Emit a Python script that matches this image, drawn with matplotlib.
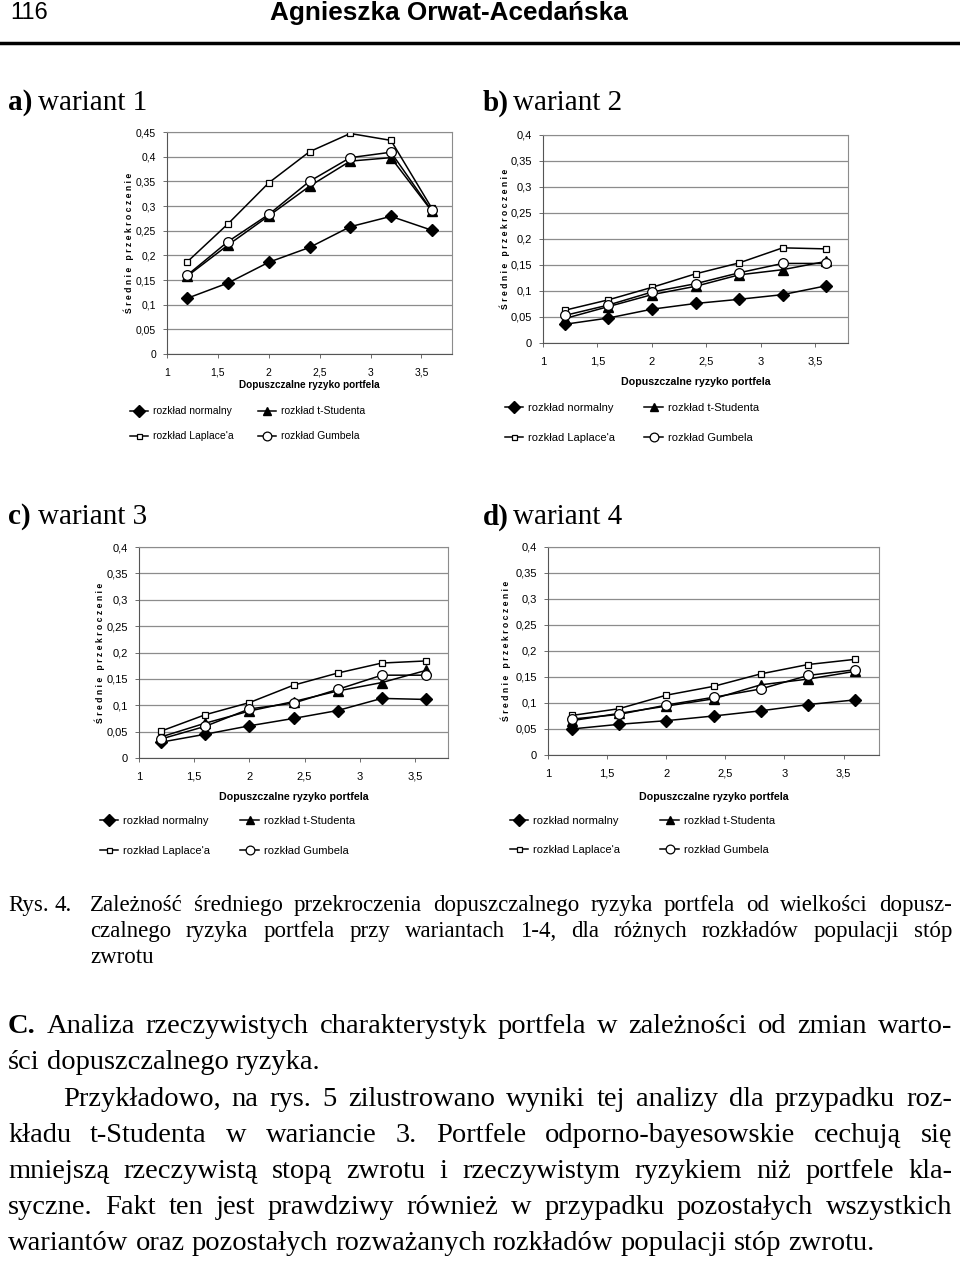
import matplotlib
matplotlib.use("Agg")
import matplotlib.pyplot as plt
from matplotlib.ticker import FuncFormatter

W, H = 960, 1271
fig = plt.figure(figsize=(W / 100, H / 100), dpi=100)

# x values (dopuszczalne ryzyko portfela)
ryzyko = [1.2, 1.6, 2.0, 2.4, 2.8, 3.2, 3.6]

# a) wariant 1
a_normalny = [0.113, 0.144, 0.186, 0.216, 0.258, 0.279, 0.251]
a_student = [0.158, 0.221, 0.280, 0.340, 0.391, 0.398, 0.290]
a_laplace = [0.187, 0.264, 0.347, 0.410, 0.447, 0.433, 0.296]
a_gumbel = [0.160, 0.228, 0.283, 0.350, 0.398, 0.409, 0.291]

# b) wariant 2
b_normalny = [0.036, 0.048, 0.065, 0.076, 0.084, 0.093, 0.110]
b_student = [0.047, 0.070, 0.093, 0.109, 0.131, 0.141, 0.157]
b_laplace = [0.063, 0.083, 0.107, 0.133, 0.154, 0.183, 0.181]
b_gumbel = [0.053, 0.073, 0.098, 0.114, 0.135, 0.153, 0.153]

# c) wariant 3
c_normalny = [0.030, 0.045, 0.061, 0.075, 0.090, 0.113, 0.111]
c_student = [0.040, 0.066, 0.089, 0.107, 0.127, 0.143, 0.166]
c_laplace = [0.051, 0.082, 0.105, 0.138, 0.161, 0.180, 0.184]
c_gumbel = [0.036, 0.060, 0.093, 0.104, 0.130, 0.157, 0.157]

# d) wariant 4
d_normalny = [0.050, 0.059, 0.066, 0.075, 0.085, 0.097, 0.106]
d_student = [0.066, 0.080, 0.094, 0.108, 0.135, 0.146, 0.161]
d_laplace = [0.076, 0.089, 0.115, 0.132, 0.156, 0.174, 0.184]
d_gumbel = [0.069, 0.078, 0.096, 0.111, 0.127, 0.153, 0.164]

labels = ["rozkład normalny", "rozkład t-Studenta", "rozkład Laplace'a", "rozkład Gumbela"]
sans = "Liberation Sans"
serif = "Liberation Serif"


def px_axes(left, top, right, bottom):
    return fig.add_axes([left / W, 1 - bottom / H, (right - left) / W, (bottom - top) / H])


def comma(v, pos):
    s = ("%.2f" % v).rstrip("0").rstrip(".")
    return s.replace(".", ",")


def chart(box, data, ymax, ylab_x, xlab_y, leg, fs):
    ax = px_axes(*box)
    norm, stud, lap, gum = data
    l1, = ax.plot(ryzyko, norm, color="black", lw=1.1, marker="D", ms=6.5, mfc="black")
    l2, = ax.plot(ryzyko, stud, color="black", lw=1.1, marker="^", ms=6.5, mfc="black")
    l3, = ax.plot(ryzyko, lap, color="black", lw=1.1, marker="s", ms=4, mfc="white", mew=0.9)
    l4, = ax.plot(ryzyko, gum, color="black", lw=1.1, marker="o", ms=7, mfc="white", mew=0.9)
    ax.set_xlim(1, 3.8)
    ax.set_ylim(0, ymax)
    ax.set_xticks([1, 1.5, 2, 2.5, 3, 3.5])
    ax.set_yticks([i * 0.05 for i in range(int(round(ymax / 0.05)) + 1)])
    ax.xaxis.set_major_formatter(FuncFormatter(comma))
    ax.yaxis.set_major_formatter(FuncFormatter(comma))
    ax.yaxis.grid(True, color="#8c8c8c", lw=0.9)
    ax.set_axisbelow(True)
    for s in ["top", "right"]:
        ax.spines[s].set_color("#8c8c8c")
    for s in ["left", "bottom"]:
        ax.spines[s].set_color("#555555")
    ax.tick_params(labelsize=fs, length=3, width=0.6, color="#555555", pad=5)
    ax.tick_params(axis="x", pad=7)
    for t in ax.get_xticklabels() + ax.get_yticklabels():
        t.set_family(sans)
    fig.text(ylab_x / W, 1 - (box[1] + box[3]) / 2 / H, "Ś r e d n i e   p r z e k r o c z e n i e",
             rotation=90, ha="center", va="center", fontsize=6.2, fontweight="bold", family=sans)
    fig.text((box[0] + box[2]) / 2 / W, 1 - xlab_y / H, "Dopuszczalne ryzyko portfela",
             ha="center", va="center", fontsize=fs - 0.3, fontweight="bold", family=sans)
    lx, ly, colsp, rowsp = leg
    fig.legend([l1, l3, l2, l4], [labels[0], labels[2], labels[1], labels[3]], ncol=2,
               loc="upper left", bbox_to_anchor=(lx / W, 1 - ly / H), frameon=False,
               prop={"family": sans, "size": fs}, handlelength=1.7, handletextpad=0.45,
               columnspacing=colsp, labelspacing=rowsp, borderpad=0, markerscale=0.9)
    return ax


# header
fig.text(10 / W, 1 - 13 / H, "116", fontsize=17, family=sans, va="center", ha="left")
fig.text(449 / W, 1 - 13 / H, "Agnieszka Orwat-Acedańska", fontsize=18.8, family=sans,
         fontweight="bold", va="center", ha="center")
fig.add_artist(plt.Line2D([0, 1], [1 - 43 / H, 1 - 43 / H], color="black", lw=2.5))


def title(x, y, lit, rest):
    fig.text(x / W, 1 - y / H, lit, fontsize=21, family=serif, fontweight="bold", va="center")
    fig.text((x + 30) / W, 1 - y / H, rest, fontsize=21, family=serif, va="center")


title(8, 103, "a)", "wariant 1")
title(483, 103, "b)", "wariant 2")
title(8, 517, "c)", "wariant 3")
title(483, 517, "d)", "wariant 4")

chart((167, 132, 452, 354), (a_normalny, a_student, a_laplace, a_gumbel), 0.45,
      129, 385, (125, 401, 2.4, 1.45), 7.5)
chart((543, 135, 848, 343), (b_normalny, b_student, b_laplace, b_gumbel), 0.4,
      505, 382, (499, 397, 2.6, 1.8), 8)
chart((139, 547, 448, 758), (c_normalny, c_student, c_laplace, c_gumbel), 0.4,
      100, 797, (94, 810, 2.7, 1.8), 8)
chart((548, 547, 879, 755), (d_normalny, d_student, d_laplace, d_gumbel), 0.4,
      506, 797, (504, 810, 3.6, 1.75), 8)

# caption and body text, justified word by word
renderer = fig.canvas.get_renderer()


def line(text, x0, x1, y, size, justify=True, bold_first=False):
    em = size * 100 / 72
    base = y + 0.33 * em
    words = text.split(" ")
    arts = []
    for i, w in enumerate(words):
        t = fig.text(x0 / W, 1 - base / H, w, fontsize=size, family=serif, va="baseline",
                     fontweight="bold" if (bold_first and i == 0) else "normal")
        arts.append(t)
    widths = [a.get_window_extent(renderer).width for a in arts]
    gap = 0.25 * em
    if justify and len(words) > 1:
        gap = max((x1 - x0 - sum(widths)) / (len(words) - 1), 0.15 * em)
    x = x0
    for a, w in zip(arts, widths):
        a.set_x(x / W)
        x += w + gap


line("Rys. 4.", 8, 80, 903, 16.5, justify=False)
line("Zależność średniego przekroczenia dopuszczalnego ryzyka portfela od wielkości dopusz-", 90, 952, 903, 16.5)
line("czalnego ryzyka portfela przy wariantach 1-4, dla różnych rozkładów populacji stóp", 90, 952, 929, 16.5)
line("zwrotu", 90, 952, 955, 16.5, justify=False)

body = [
    ("C. Analiza rzeczywistych charakterystyk portfela w zależności od zmian warto-", 8, True, True),
    ("ści dopuszczalnego ryzyka.", 8, False, False),
    ("Przykładowo, na rys. 5 zilustrowano wyniki tej analizy dla przypadku roz-", 63, True, False),
    ("kładu t-Studenta w wariancie 3. Portfele odporno-bayesowskie cechują się", 8, True, False),
    ("mniejszą rzeczywistą stopą zwrotu i rzeczywistym ryzykiem niż portfele kla-", 8, True, False),
    ("syczne. Fakt ten jest prawdziwy również w przypadku pozostałych wszystkich", 8, True, False),
    ("wariantów oraz pozostałych rozważanych rozkładów populacji stóp zwrotu.", 8, False, False),
]
body_y = [1024, 1060, 1097, 1133, 1169, 1205, 1241]
for (txt, x0, just, bold), y in zip(body, body_y):
    line(txt, x0, 952, y, 20.5, justify=just, bold_first=bold)

fig.savefig("out.png", dpi=100)
